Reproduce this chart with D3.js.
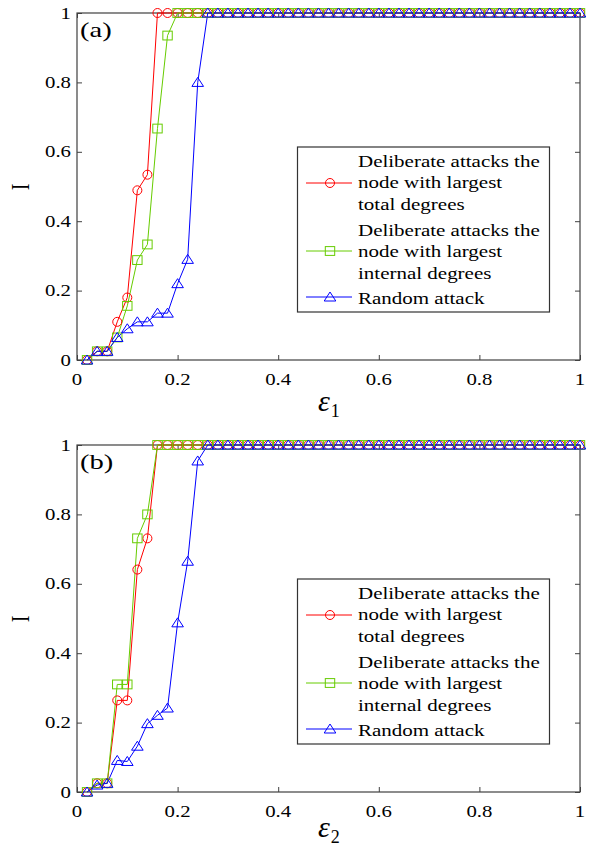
<!DOCTYPE html>
<html lang="en">
<head>
<meta charset="utf-8">
<title>Attack robustness</title>
<script src="https://d3js.org/d3.v7.min.js"></script>
<style>
  body { margin: 0; background: #fff; }
</style>
</head>
<body>
<div id="chart"></div>
<script>
// x values (epsilon)
var eps = [0.02,0.04,0.06,0.08,0.10,0.12,0.14,0.16,0.18,0.20,
           0.22,0.24,0.26,0.28,0.30,0.32,0.34,0.36,0.38,0.40,
           0.42,0.44,0.46,0.48,0.50,0.52,0.54,0.56,0.58,0.60,
           0.62,0.64,0.66,0.68,0.70,0.72,0.74,0.76,0.78,0.80,
           0.82,0.84,0.86,0.88,0.90,0.92,0.94,0.96,0.98,1.00];

// panel (a)
var totalA  = [0,0.025,0.025,0.11,0.18,0.489,0.534,1,1,1, 1,1,1,1,1,1,1,1,1,1, 1,1,1,1,1,1,1,1,1,1, 1,1,1,1,1,1,1,1,1,1, 1,1,1,1,1,1,1,1,1,1];
var internA = [0,0.025,0.025,0.065,0.156,0.288,0.333,0.667,0.935,1, 1,1,1,1,1,1,1,1,1,1, 1,1,1,1,1,1,1,1,1,1, 1,1,1,1,1,1,1,1,1,1, 1,1,1,1,1,1,1,1,1,1];
var randA   = [0,0.025,0.025,0.065,0.09,0.11,0.11,0.135,0.135,0.22, 0.29,0.80,1,1,1,1,1,1,1,1, 1,1,1,1,1,1,1,1,1,1, 1,1,1,1,1,1,1,1,1,1, 1,1,1,1,1,1,1,1,1,1];

// panel (b)
var totalB  = [0,0.025,0.025,0.264,0.264,0.641,0.731,1,1,1, 1,1,1,1,1,1,1,1,1,1, 1,1,1,1,1,1,1,1,1,1, 1,1,1,1,1,1,1,1,1,1, 1,1,1,1,1,1,1,1,1,1];
var internB = [0,0.025,0.025,0.31,0.31,0.731,0.80,1,1,1, 1,1,1,1,1,1,1,1,1,1, 1,1,1,1,1,1,1,1,1,1, 1,1,1,1,1,1,1,1,1,1, 1,1,1,1,1,1,1,1,1,1];
var randB   = [0,0.02,0.025,0.091,0.088,0.132,0.197,0.221,0.242,0.4875, 0.665,0.954,1,1,1,1,1,1,1,1, 1,1,1,1,1,1,1,1,1,1, 1,1,1,1,1,1,1,1,1,1, 1,1,1,1,1,1,1,1,1,1];

var tickVals = [0, 0.2, 0.4, 0.6, 0.8, 1];
var tickLabels = ["0", "0.2", "0.4", "0.6", "0.8", "1"];

var legendLines = [
  ["Deliberate attacks the", "node with largest", "total degrees"],
  ["Deliberate attacks the", "node with largest", "internal degrees"],
  ["Random attack"]
];

var red = "#ff0000", green = "#66cc00", blue = "#0000ff";
var serif = "'Liberation Serif', 'DejaVu Serif', serif";

var svg = d3.select("#chart").append("svg")
    .attr("width", 596)
    .attr("height", 847);

svg.append("rect").attr("width", 596).attr("height", 847).attr("fill", "#fff");

// text with horizontal stretch (the original figure is a bit wide)
function stext(g, x, y, str, size, anchor, sx) {
  return g.append("text")
    .attr("transform", "translate(" + x + "," + y + ") scale(" + sx + ",1)")
    .attr("text-anchor", anchor || "start")
    .style("font-family", serif)
    .style("font-size", size + "px")
    .attr("fill", "#000")
    .text(str);
}

function marker(g, type, color, cx, cy) {
  if (type == "circle") {
    g.append("circle").attr("cx", cx).attr("cy", cy).attr("r", 4.5)
      .attr("fill", "none").attr("stroke", color).attr("stroke-width", 1);
  } else if (type == "square") {
    g.append("rect").attr("x", cx - 4.7).attr("y", cy - 4.4)
      .attr("width", 9.4).attr("height", 8.8)
      .attr("fill", "none").attr("stroke", color).attr("stroke-width", 1);
  } else {
    g.append("path")
      .attr("d", "M" + cx + "," + (cy - 5) + "L" + (cx + 5.8) + "," + (cy + 4) + "L" + (cx - 5.8) + "," + (cy + 4) + "Z")
      .attr("fill", "none").attr("stroke", color).attr("stroke-width", 1);
  }
}

function drawPanel(top, series, label, sub, labelY) {
  var x = d3.scaleLinear().domain([0, 1]).range([77, 580]);
  var y = d3.scaleLinear().domain([0, 1]).range([top + 347, top]);
  var g = svg.append("g");

  // frame
  g.append("rect").attr("x", 77).attr("y", top).attr("width", 503).attr("height", 347)
    .attr("fill", "none").attr("stroke", "#404040").attr("stroke-width", 1.2);

  // inward ticks on all four sides
  var sides = [
    [d3.axisBottom(x), "translate(0," + (top + 347) + ")"],
    [d3.axisTop(x), "translate(0," + top + ")"],
    [d3.axisLeft(y), "translate(77,0)"],
    [d3.axisRight(y), "translate(580,0)"]
  ];
  sides.forEach(function(s) {
    var ax = s[0].tickValues(tickVals).tickSizeInner(-5).tickSizeOuter(0).tickFormat("");
    var ga = g.append("g").attr("transform", s[1]).call(ax);
    ga.select(".domain").remove();
    ga.selectAll("line").attr("stroke", "#404040");
  });

  // tick labels
  tickVals.forEach(function(v, i) {
    stext(g, x(v), top + 372, tickLabels[i], 16, "middle", 1.3);
    stext(g, 71, y(v) + 5.5, tickLabels[i], 16, "end", 1.3);
  });

  // lines and markers
  var line = d3.line().x(function(d, i) { return x(eps[i]); }).y(function(d) { return y(d); });
  series.forEach(function(s) {
    g.append("path").datum(s.values).attr("d", line)
      .attr("fill", "none").attr("stroke", s.color).attr("stroke-width", 1);
  });
  series.forEach(function(s) {
    s.values.forEach(function(v, i) { marker(g, s.type, s.color, x(eps[i]), y(v)); });
  });

  // panel label
  stext(g, 80, top + 24, label, 22, "start", 1.3);

  // axis labels
  g.append("text").attr("transform", "translate(29," + (top + 174) + ") rotate(-90) scale(1,1.3)")
    .attr("text-anchor", "middle").style("font-family", serif).style("font-size", "20px").text("I");
  var xl = g.append("text").attr("x", 318).attr("y", labelY)
    .style("font-family", serif);
  xl.append("tspan").style("font-size", "30px").attr("font-style", "italic").text("\u03b5");
  xl.append("tspan").style("font-size", "18px").attr("dy", 6).attr("dx", 1).text(sub);

  // legend
  var lg = g.append("g");
  lg.append("rect").attr("x", 297.5).attr("y", top + 134).attr("width", 252).attr("height", 165)
    .attr("fill", "#fff").attr("stroke", "#333").attr("stroke-width", 1.2);
  var baselines = [[154, 175, 197], [222.5, 244, 265.5], [290.5]];
  var markerY = [170, 238, 284];
  series.forEach(function(s, k) {
    lg.append("line").attr("x1", 306).attr("x2", 352)
      .attr("y1", top + markerY[k]).attr("y2", top + markerY[k])
      .attr("stroke", s.color).attr("stroke-width", 1);
    marker(lg, s.type, s.color, 330, top + markerY[k]);
    legendLines[k].forEach(function(t, j) {
      stext(lg, 358, top + baselines[k][j], t, 17.5, "start", 1.2);
    });
  });
}

drawPanel(13, [
  { values: totalA, color: red, type: "circle" },
  { values: internA, color: green, type: "square" },
  { values: randA, color: blue, type: "triangle" }
], "(a)", "1", 411);

drawPanel(445, [
  { values: totalB, color: red, type: "circle" },
  { values: internB, color: green, type: "square" },
  { values: randB, color: blue, type: "triangle" }
], "(b)", "2", 837);
</script>
</body>
</html>
